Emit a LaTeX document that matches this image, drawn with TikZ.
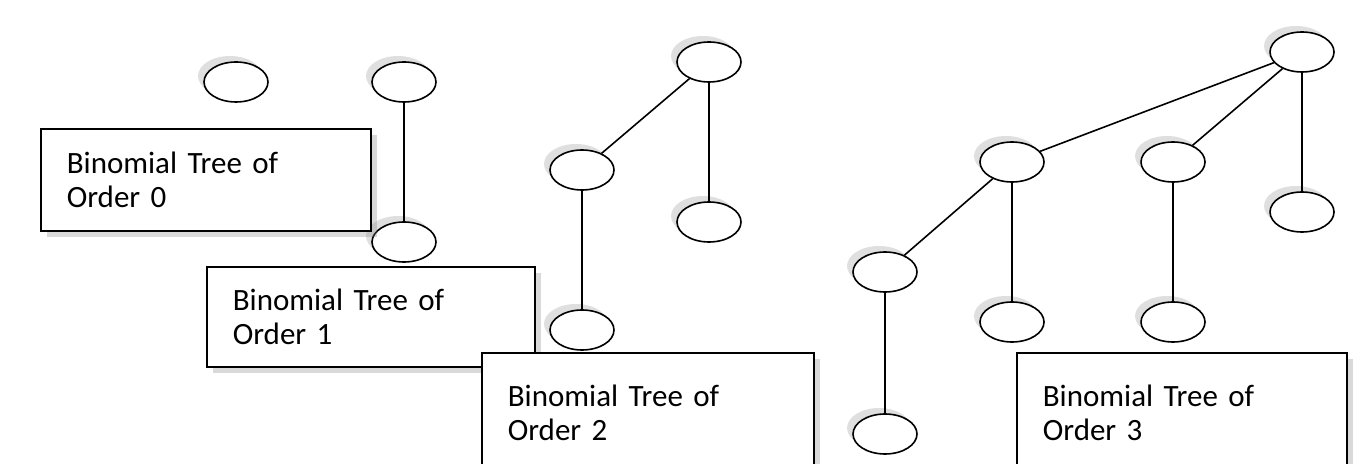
\documentclass[tikz,border=0pt]{standalone}
\usepackage{fontspec}
\setmainfont{Carlito}
\usetikzlibrary{shadows,shapes.geometric}
\begin{document}
\begin{tikzpicture}[x=0.5pt,y=-0.5pt,
  nd/.style={draw,thick,ellipse,fill=white,minimum width=32pt,minimum height=20pt,inner sep=0pt,
     drop shadow={shadow xshift=-3pt,shadow yshift=3pt,opacity=0.25}},
  bx/.style={draw,thick,fill=white,anchor=north west,align=left,font=\fontsize{15.5}{17}\selectfont,
     text width=#1,inner xsep=13pt,inner ysep=7pt,drop shadow={shadow xshift=3pt,shadow yshift=-3pt,opacity=0.3}},
  ed/.style={thick}]
\useasboundingbox (0,0) rectangle (1368,464);
\node[nd] (a0) at (236,82) {};
\node[nd] (b0) at (404,82) {};
\node[nd] (b1) at (404,242) {};
\node[nd] (c0) at (709,62) {};
\node[nd] (c1) at (582,170) {};
\node[nd] (c2) at (709,222) {};
\node[nd] (c3) at (582,330) {};
\node[nd] (d0) at (1302,52) {};
\node[nd] (d1) at (1012,162) {};
\node[nd] (d2) at (1173,162) {};
\node[nd] (d3) at (1302,212) {};
\node[nd] (d4) at (885,272) {};
\node[nd] (d5) at (1012,322) {};
\node[nd] (d6) at (1173,322) {};
\node[nd] (d7) at (885,434) {};
\draw[ed] (b0)--(b1);
\draw[ed] (c0)--(c1); \draw[ed] (c0)--(c2); \draw[ed] (c1)--(c3);
\draw[ed] (d0)--(d1); \draw[ed] (d0)--(d2); \draw[ed] (d0)--(d3);
\draw[ed] (d1)--(d4); \draw[ed] (d1)--(d5); \draw[ed] (d2)--(d6); \draw[ed] (d4)--(d7);
\node[bx=139pt,minimum height=51pt] (t0) at (40,128) {Binomial Tree of\\Order 0};
\node[bx=138pt,minimum height=50pt] (t1) at (206,266) {Binomial Tree of\\Order 1};
\node[bx=140pt,minimum height=60pt] (t2) at (481,352) {Binomial Tree of\\Order 2};
\node[bx=139pt,minimum height=60pt] (t3) at (1016,352) {Binomial Tree of\\Order 3};
\end{tikzpicture}
\end{document}
